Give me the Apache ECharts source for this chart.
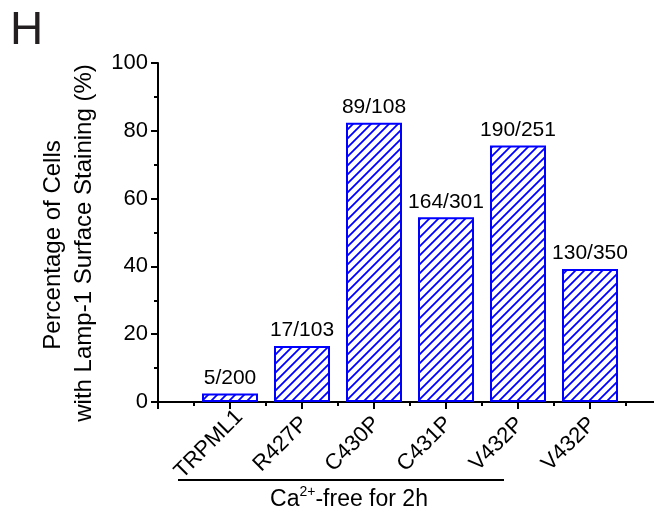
<!DOCTYPE html>
<html>
<head>
<meta charset="utf-8">
<script src="https://cdn.jsdelivr.net/npm/echarts@6/dist/echarts.min.js"></script>
<style>
  html, body { margin: 0; padding: 0; background: #fff; }
  #main { width: 654px; height: 513px; }
</style>
</head>
<body>
<div id="main"></div>
<script>
var categories = ['TRPML1', 'R427P', 'C430P', 'C431P', 'V432P', 'V432P'];
var percents = [2.5, 16.5, 82.4, 54.5, 75.7, 39.2];
var counts = ['5/200', '17/103', '89/108', '164/301', '190/251', '130/350'];
var yTicks = [0, 20, 40, 60, 80, 100];

var FONT = '"Liberation Sans", Arial, sans-serif';

// hatched fill, blue "/" lines
function hatch() {
  var s = 9;
  var c = document.createElement('canvas');
  c.width = s; c.height = s;
  var ctx = c.getContext('2d');
  ctx.strokeStyle = '#0000ff';
  ctx.lineWidth = 1.8;
  ctx.beginPath();
  ctx.moveTo(-2, s + 2); ctx.lineTo(s + 2, -2);
  ctx.moveTo(-2, 2); ctx.lineTo(2, -2);
  ctx.moveTo(s - 2, s + 2); ctx.lineTo(s + 2, s - 2);
  ctx.stroke();
  return c;
}

var myChart = echarts.init(document.getElementById('main'));

var option = {
  animation: false,
  backgroundColor: '#fff',
  textStyle: { fontFamily: FONT },
  grid: { left: 158, right: -8, top: 63, bottom: 111, outerBoundsMode: 'none' },
  xAxis: {
    type: 'value',
    min: -1, max: 6, interval: 1,
    axisLine: { onZero: false, lineStyle: { color: '#000', width: 2 } },
    axisTick: { show: true, length: 7, lineStyle: { color: '#000', width: 2 } },
    minorTick: { show: true, splitNumber: 2, length: 4, lineStyle: { color: '#000', width: 2 } },
    splitLine: { show: false },
    minorSplitLine: { show: false },
    axisLabel: {
      rotate: 45, align: 'center', verticalAlign: 'middle',
      margin: 21, padding: [0, 60, 0, 0],
      fontSize: 22, color: '#000', fontFamily: FONT,
      showMinLabel: true, showMaxLabel: true, hideOverlap: false,
      formatter: function (v) {
        return (v >= 0 && v < categories.length && v === Math.round(v)) ? categories[v] : '';
      }
    }
  },
  yAxis: {
    type: 'value',
    min: yTicks[0], max: yTicks[yTicks.length - 1], interval: 20,
    axisLine: { show: true, onZero: false, lineStyle: { color: '#000', width: 2 } },
    axisTick: { show: true, length: 7, lineStyle: { color: '#000', width: 2 } },
    minorTick: { show: true, splitNumber: 2, length: 4, lineStyle: { color: '#000', width: 2 } },
    splitLine: { show: false },
    axisLabel: { fontSize: 22, color: '#000', margin: 10, fontFamily: FONT }
  },
  series: [{
    type: 'bar',
    barWidth: 56,
    data: percents.map(function (v, i) { return [i, v]; }),
    itemStyle: {
      color: { image: hatch(), repeat: 'repeat' },
      borderColor: '#0000ff',
      borderWidth: 2
    },
    label: {
      show: true, position: 'top', distance: 5,
      fontSize: 21, color: '#000', fontFamily: FONT,
      formatter: function (p) { return counts[p.dataIndex]; }
    }
  }],
  graphic: [
    { type: 'text', left: 10, top: 8,
      style: { text: 'H', fontSize: 46, fill: '#231f20', fontFamily: FONT } },
    { type: 'text', x: 53, y: 245, rotation: Math.PI / 2,
      style: { text: 'Percentage of Cells', fontSize: 24, fill: '#000', fontFamily: FONT,
               align: 'center', verticalAlign: 'middle' } },
    { type: 'text', x: 84, y: 243, rotation: Math.PI / 2,
      style: { text: 'with Lamp-1 Surface Staining (%)', fontSize: 24, fill: '#000', fontFamily: FONT,
               align: 'center', verticalAlign: 'middle' } },
    { type: 'line', shape: { x1: 178, y1: 480, x2: 504, y2: 480 },
      style: { stroke: '#000', lineWidth: 2 } },
    { type: 'text', x: 349, y: 500,
      style: {
        text: '{a|Ca}{s|2+}{a|-free for 2h}',
        align: 'center', verticalAlign: 'middle', fill: '#000',
        rich: {
          a: { fontSize: 23, lineHeight: 30, fontFamily: FONT, fill: '#000' },
          s: { fontSize: 14, lineHeight: 30, fontFamily: FONT, fill: '#000', verticalAlign: 'top' }
        }
      } }
  ]
};

myChart.setOption(option);
</script>
</body>
</html>
